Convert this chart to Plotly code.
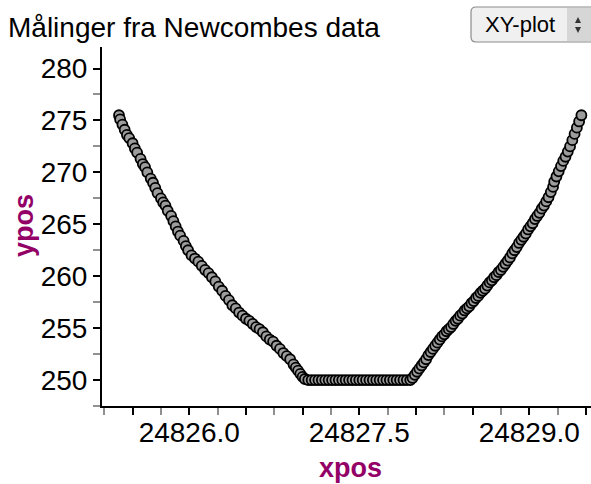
import plotly.graph_objects as go

# Newcomb measurements: descending branch, flat bottom, ascending branch
left_x = [24825.38, 24825.39, 24825.41, 24825.43, 24825.45, 24825.47, 24825.50, 24825.52,
          24825.54, 24825.57, 24825.59, 24825.61, 24825.63, 24825.66, 24825.68, 24825.70,
          24825.72, 24825.75, 24825.77, 24825.79, 24825.81, 24825.84, 24825.86, 24825.88,
          24825.90, 24825.92, 24825.95, 24825.97, 24825.99, 24826.02, 24826.05, 24826.08,
          24826.11, 24826.14, 24826.17, 24826.20, 24826.23, 24826.26, 24826.29, 24826.32,
          24826.35, 24826.38, 24826.41, 24826.44, 24826.47, 24826.50, 24826.53, 24826.56,
          24826.59, 24826.62, 24826.65, 24826.68, 24826.71, 24826.74, 24826.77, 24826.80,
          24826.83, 24826.86, 24826.89, 24826.92, 24826.94, 24826.96, 24826.98, 24827.00,
          24827.02]
left_y = [275.5, 275.1, 274.6, 274.1, 273.6, 273.3, 272.8, 272.3,
          271.9, 271.3, 270.8, 270.5, 270.0, 269.4, 269.0, 268.5,
          268.0, 267.5, 267.1, 266.8, 266.3, 265.8, 265.3, 264.8,
          264.3, 263.9, 263.4, 262.9, 262.5, 262.0, 261.7, 261.4,
          261.0, 260.6, 260.3, 259.9, 259.5, 259.0, 258.6, 258.1,
          257.7, 257.2, 256.9, 256.5, 256.2, 255.9, 255.7, 255.4,
          255.1, 254.9, 254.6, 254.2, 253.9, 253.7, 253.3, 253.0,
          252.6, 252.3, 252.0, 251.5, 251.2, 250.9, 250.6, 250.3,
          250.1]

flat_x = [24827.05, 24827.08, 24827.11, 24827.14, 24827.17, 24827.20, 24827.23, 24827.26,
          24827.29, 24827.32, 24827.35, 24827.38, 24827.41, 24827.44, 24827.47, 24827.50,
          24827.53, 24827.56, 24827.59, 24827.62, 24827.65, 24827.68, 24827.71, 24827.74,
          24827.77, 24827.80, 24827.83, 24827.86, 24827.89, 24827.92, 24827.95]
flat_y = [250.0, 250.0, 250.0, 250.0, 250.0, 250.0, 250.0, 250.0,
          250.0, 250.0, 250.0, 250.0, 250.0, 250.0, 250.0, 250.0,
          250.0, 250.0, 250.0, 250.0, 250.0, 250.0, 250.0, 250.0,
          250.0, 250.0, 250.0, 250.0, 250.0, 250.0, 250.0]

right_x = [24827.97, 24827.99, 24828.01, 24828.03, 24828.05, 24828.07, 24828.09, 24828.11,
           24828.13, 24828.15, 24828.17, 24828.19, 24828.21, 24828.23, 24828.25, 24828.27,
           24828.29, 24828.31, 24828.33, 24828.35, 24828.37, 24828.39, 24828.41, 24828.43,
           24828.45, 24828.47, 24828.49, 24828.51, 24828.53, 24828.55, 24828.57, 24828.59,
           24828.61, 24828.63, 24828.65, 24828.67, 24828.69, 24828.71, 24828.73, 24828.75,
           24828.77, 24828.79, 24828.81, 24828.83, 24828.85, 24828.87, 24828.89, 24828.91,
           24828.93, 24828.95, 24828.97, 24828.99, 24829.01, 24829.03, 24829.05, 24829.07,
           24829.09, 24829.11, 24829.13, 24829.15, 24829.17, 24829.19, 24829.21, 24829.22,
           24829.24, 24829.26, 24829.28, 24829.30, 24829.32, 24829.34, 24829.36, 24829.38,
           24829.40, 24829.42, 24829.44, 24829.46]
right_y = [250.2, 250.5, 250.8, 251.1, 251.4, 251.7, 252.0, 252.4,
           252.7, 253.0, 253.3, 253.6, 253.9, 254.2, 254.4, 254.7,
           254.9, 255.1, 255.4, 255.7, 255.9, 256.2, 256.4, 256.7,
           256.9, 257.1, 257.4, 257.6, 257.9, 258.1, 258.4, 258.6,
           258.8, 259.1, 259.4, 259.6, 259.9, 260.1, 260.4, 260.6,
           260.9, 261.2, 261.5, 261.8, 262.2, 262.5, 262.8, 263.2,
           263.5, 263.8, 264.1, 264.5, 264.8, 265.1, 265.5, 265.8,
           266.1, 266.5, 266.8, 267.2, 267.6, 268.1, 268.6, 269.1,
           269.6, 270.1, 270.6, 271.1, 271.5, 272.0, 272.5, 273.1,
           273.7, 274.3, 274.9, 275.5]

xpos = left_x + flat_x + right_x
ypos = left_y + flat_y + right_y

x_tickvals = [24825.5, 24826.0, 24826.5, 24827.0, 24827.5, 24828.0, 24828.5, 24829.0, 24829.5]
x_ticktext = ["", "24826.0", "", "", "24827.5", "", "", "24829.0", ""]
y_tickvals = [250, 255, 260, 265, 270, 275, 280]
y_ticktext = ["250", "255", "260", "265", "270", "275", "280"]

FONT = "Arial, Liberation Sans, sans-serif"
PURPLE = "#930066"

W, H = 591, 484
PL, PR, PT, PB = 102, 591, 47, 406


def px_x(p):
    return (p - PL) / (PR - PL)


def px_y(p):
    return (PB - p) / (PB - PT)


fig = go.Figure()
fig.add_trace(go.Scatter(
    x=xpos, y=ypos, mode="markers",
    marker=dict(size=10, color="#9c9c9c", line=dict(color="black", width=1.8)),
    hoverinfo="x+y", showlegend=False,
))

axis_common = dict(
    showgrid=False, zeroline=False, showline=True, linecolor="black", linewidth=2,
    ticks="outside", ticklen=7, tickwidth=1.5, tickcolor="black",
    tickfont=dict(family=FONT, size=28, color="black"),
)

fig.update_xaxes(
    range=[24825.23, 24825.23 + (PR - PL) / 113.33],
    tickmode="array", tickvals=x_tickvals, ticktext=x_ticktext,
    minor=dict(dtick=0.25, tick0=0, ticks="outside", ticklen=7, tickwidth=1.5, tickcolor="#909090"),
    ticklabelstandoff=-7,
    **axis_common,
)
fig.update_yaxes(
    range=[247.5, 282.07],
    tickmode="array", tickvals=y_tickvals, ticktext=y_ticktext,
    minor=dict(dtick=2.5, tick0=0, ticks="outside", ticklen=7, tickwidth=1.5, tickcolor="#909090"),
    ticklabelstandoff=0,
    **axis_common,
)

# select-box style control in the top-right corner
bx0, bx1, by0, by1 = 471, 596, 7, 42
r = 5
rx = r / (PR - PL)
ry = r / (PB - PT)
X0, X1, Y0, Y1 = px_x(bx0), px_x(bx1), px_y(by0), px_y(by1)
box_path = (f"M {X0 + rx},{Y0} L {X1 - rx},{Y0} Q {X1},{Y0} {X1},{Y0 - ry} "
            f"L {X1},{Y1 + ry} Q {X1},{Y1} {X1 - rx},{Y1} L {X0 + rx},{Y1} "
            f"Q {X0},{Y1} {X0},{Y1 + ry} L {X0},{Y0 - ry} Q {X0},{Y0} {X0 + rx},{Y0} Z")
shapes = [
    dict(type="path", xref="paper", yref="paper", path=box_path,
         fillcolor="#f0f0f0", line=dict(color="#8c8c8c", width=1.2), layer="above"),
    dict(type="rect", xref="paper", yref="paper",
         x0=px_x(567), x1=px_x(591), y0=px_y(by0 + 1), y1=px_y(by1 - 1),
         fillcolor="#d6d6d6", line=dict(width=0), layer="above"),
    dict(type="path", xref="paper", yref="paper",
         path=f"M {px_x(575)},{px_y(23)} L {px_x(581)},{px_y(23)} L {px_x(578)},{px_y(17)} Z",
         fillcolor="#333333", line=dict(width=0), layer="above"),
    dict(type="path", xref="paper", yref="paper",
         path=f"M {px_x(575)},{px_y(27)} L {px_x(581)},{px_y(27)} L {px_x(578)},{px_y(33)} Z",
         fillcolor="#333333", line=dict(width=0), layer="above"),
]

annotations = [
    dict(text="Målinger fra Newcombes data", xref="paper", yref="paper",
         x=px_x(6), y=px_y(28), xanchor="left", yanchor="middle", showarrow=False,
         font=dict(family=FONT, size=28, color="black")),
    dict(text="XY-plot", xref="paper", yref="paper",
         x=px_x(520), y=px_y(24), xanchor="center", yanchor="middle", showarrow=False,
         font=dict(family=FONT, size=22, color="black")),
    dict(text="<b>xpos</b>", xref="paper", yref="paper",
         x=px_x(350), y=px_y(468), xanchor="center", yanchor="middle", showarrow=False,
         font=dict(family=FONT, size=27, color=PURPLE)),
    dict(text="<b>ypos</b>", xref="paper", yref="paper",
         x=px_x(24), y=px_y(226), xanchor="center", yanchor="middle", showarrow=False,
         textangle=-90, font=dict(family=FONT, size=27, color=PURPLE)),
]

fig.update_layout(
    width=W, height=H,
    margin=dict(l=PL, r=W - PR, t=PT, b=H - PB, pad=0),
    paper_bgcolor="white", plot_bgcolor="white",
    shapes=shapes, annotations=annotations,
    font=dict(family=FONT),
)

fig.write_html("out.html")
